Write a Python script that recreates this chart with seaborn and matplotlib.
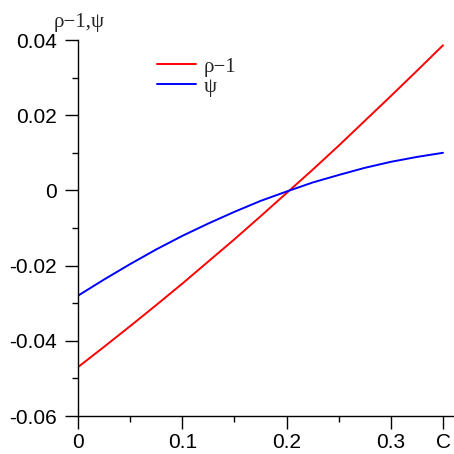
import matplotlib
matplotlib.use("Agg")
import matplotlib.pyplot as plt
import seaborn as sns
import pandas as pd
from matplotlib.ticker import MultipleLocator
from matplotlib.lines import Line2D

# data
c_values = [0.0, 0.025, 0.05, 0.075, 0.10, 0.125, 0.15, 0.175, 0.20,
            0.225, 0.25, 0.275, 0.30, 0.325, 0.35]
rho_minus_1 = [-0.0470, -0.0416, -0.0361, -0.0305, -0.0248, -0.0189, -0.0130,
               -0.0069, -0.0007, 0.0055, 0.0119, 0.0185, 0.0251, 0.0318, 0.0386]
psi = [-0.0280, -0.0237, -0.0196, -0.0157, -0.0121, -0.0088, -0.0057, -0.0028,
       -0.0003, 0.0021, 0.0041, 0.0060, 0.0076, 0.0089, 0.0100]
series_names = ["ρ−1", "ψ"]
series_colors = ["#ff0000", "#0000ff"]
x_ticks = [0.0, 0.1, 0.2, 0.3, 0.35]
x_tick_labels = ["0", "0.1", "0.2", "0.3", "C"]
y_ticks = [-0.06, -0.04, -0.02, 0.0, 0.02, 0.04]
y_tick_labels = ["-0.06", "-0.04", "-0.02", "0", "0.02", "0.04"]
y_title = "ρ−1,ψ"

df = pd.DataFrame({
    "C": c_values * 2,
    "value": rho_minus_1 + psi,
    "series": [series_names[0]] * len(c_values) + [series_names[1]] * len(c_values),
})

sns.set_style("ticks")
plt.rcParams["font.family"] = ["Liberation Sans", "DejaVu Sans"]

fig = plt.figure(figsize=(4.54, 4.54), dpi=100)
W = H = 454.0
ax = fig.add_axes([78 / W, (H - 416) / H, (W - 78) / W, (416 - 40) / H])

sns.lineplot(data=df, x="C", y="value", hue="series", palette=series_colors,
             hue_order=series_names, linewidth=1.4, ax=ax, legend=False)

ax.set_xlim(0.0, 0.35 + 11 / 1043.0)
ax.set_ylim(-0.06, 0.04)
ax.set_xticks(x_ticks)
ax.set_xticklabels(x_tick_labels)
ax.set_yticks(y_ticks)
ax.set_yticklabels(y_tick_labels)
ax.xaxis.set_minor_locator(MultipleLocator(0.05))
ax.yaxis.set_minor_locator(MultipleLocator(0.01))
ax.tick_params(axis="both", which="major", length=9.5, width=1.0, color="black",
               labelsize=15, labelcolor="black", direction="out")
ax.tick_params(axis="y", which="major", pad=5.5)
ax.tick_params(axis="x", which="major", pad=3.0)
ax.tick_params(axis="both", which="minor", length=4.5, width=1.0, color="black", direction="out")
for s in ["top", "right"]:
    ax.spines[s].set_visible(False)
for s in ["left", "bottom"]:
    ax.spines[s].set_color("black")
    ax.spines[s].set_linewidth(1.0)
ax.set_xlabel("")
ax.set_ylabel("")
ax.set_facecolor("white")
ax.grid(False)

fig.text(54 / W, 1 - 22 / H, y_title, family=["Liberation Serif", "DejaVu Serif"],
         fontsize=15, ha="left", va="center")

handles = [Line2D([], [], color=series_colors[0], lw=1.4),
           Line2D([], [], color=series_colors[1], lw=1.4)]
leg = fig.legend(handles, series_names, loc="upper left",
                 bbox_to_anchor=(157 / W, 1 - 57 / H), frameon=False,
                 prop={"family": ["Liberation Serif", "DejaVu Serif"], "size": 15},
                 handlelength=1.85, handletextpad=0.38, labelspacing=0.02,
                 borderpad=0, borderaxespad=0)

fig.savefig("out.png", dpi=100, facecolor="white")
